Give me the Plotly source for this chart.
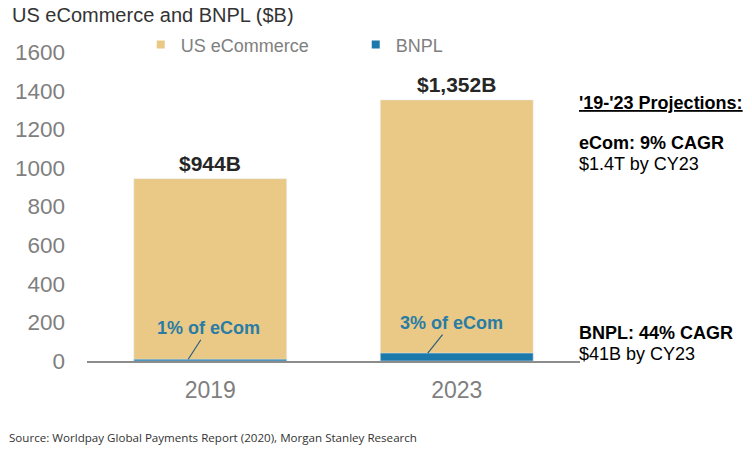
import plotly.graph_objects as go

years = ['2019', '2023']
ecommerce = [944, 1352]
bnpl = [9, 41]
total_labels = ['$944B', '$1,352B']
share_labels = ['1% of eCom', '3% of eCom']

tan = '#E9C985'
blue = '#1C79AC'
grey = '#7f7f7f'
font = 'Liberation Sans, Arial, sans-serif'

fig = go.Figure()
fig.add_trace(go.Bar(x=years, y=ecommerce, name='US eCommerce', marker_color=tan,
                     width=0.62, showlegend=False))
fig.add_trace(go.Bar(x=years, y=bnpl, name='BNPL', marker_color=blue,
                     width=0.62, showlegend=False))
# legend entries with small square swatches
fig.add_trace(go.Scatter(x=[None], y=[None], mode='markers', name='US eCommerce',
                         marker=dict(symbol='square', size=8, color=tan)))
fig.add_trace(go.Scatter(x=[None], y=[None], mode='markers', name='BNPL',
                         marker=dict(symbol='square', size=8, color=blue)))

# totals above bars (x given as category index)
for i, (v, lab) in enumerate(zip(ecommerce, total_labels)):
    fig.add_annotation(x=i, y=v, xref='x', yref='y', text='<b>' + lab + '</b>',
                       showarrow=False, yanchor='bottom', yshift=2,
                       font=dict(family=font, size=21, color='#262626'))

# BNPL share callouts
offsets = [(-22, 20, -31), (-29, 24, -30)]
for i, (v, lab, (xs, ax, ay)) in enumerate(zip(bnpl, share_labels, offsets)):
    fig.add_annotation(x=i, y=v, xref='x', yref='y', xshift=xs,
                       text='<b>' + lab + '</b>',
                       showarrow=True, arrowhead=0, arrowwidth=1.2,
                       arrowcolor='#2c5f7a', ax=ax, ay=ay, standoff=0,
                       font=dict(family=font, size=18, color='#2A7CA5'))

side_notes = [
    ('<b><u>\'19-\'23 Projections:</u></b>', 0.835),
    ('<b>eCom: 9% CAGR</b>', 0.706),
    ('$1.4T by CY23', 0.638),
    ('<b>BNPL: 44% CAGR</b>', 0.091),
    ('$41B by CY23', 0.023),
]
for txt, yp in side_notes:
    fig.add_annotation(xref='paper', yref='paper', x=0.994, y=yp, text=txt,
                       showarrow=False, xanchor='left', yanchor='middle',
                       font=dict(family=font, size=18, color='#000000'))

fig.add_annotation(xref='paper', yref='paper', x=-0.162, y=-0.246,
                   text='Source: Worldpay Global Payments Report (2020), Morgan Stanley Research',
                   showarrow=False, xanchor='left', yanchor='middle',
                   font=dict(family='Open Sans, sans-serif', size=11.6, color='#333333'))

# page body adds an 8px offset, so the figure is drawn 8px smaller
W, H = 744, 443
fig.update_layout(
    width=W, height=H,
    margin=dict(l=79, r=172, t=44, b=90),
    barmode='overlay',
    plot_bgcolor='white', paper_bgcolor='white',
    font=dict(family=font, color=grey),
    title=dict(text='US eCommerce and BNPL ($B)', x=4 / W, xref='container', xanchor='left',
               y=1, yref='container', yanchor='top', pad=dict(t=0, b=0),
               font=dict(family=font, size=20, color='#333333')),
    legend=dict(orientation='h', x=0.109, y=1.023, xanchor='left', yanchor='middle',
                font=dict(family=font, size=18, color=grey),
                entrywidth=170, entrywidthmode='pixels', bgcolor='rgba(0,0,0,0)'),
    xaxis=dict(type='category', showline=True, linecolor='#8c8c8c', linewidth=1.5,
               showgrid=False, range=[-0.5, 1.5], tickfont=dict(size=23, color=grey),
               ticklabelstandoff=8, automargin=False),
    yaxis=dict(range=[0, 1600], dtick=200, showgrid=False, zeroline=False,
               tickfont=dict(size=22.5, color=grey), ticklabelstandoff=21,
               automargin=False),
)

fig.write_html('out.html')
